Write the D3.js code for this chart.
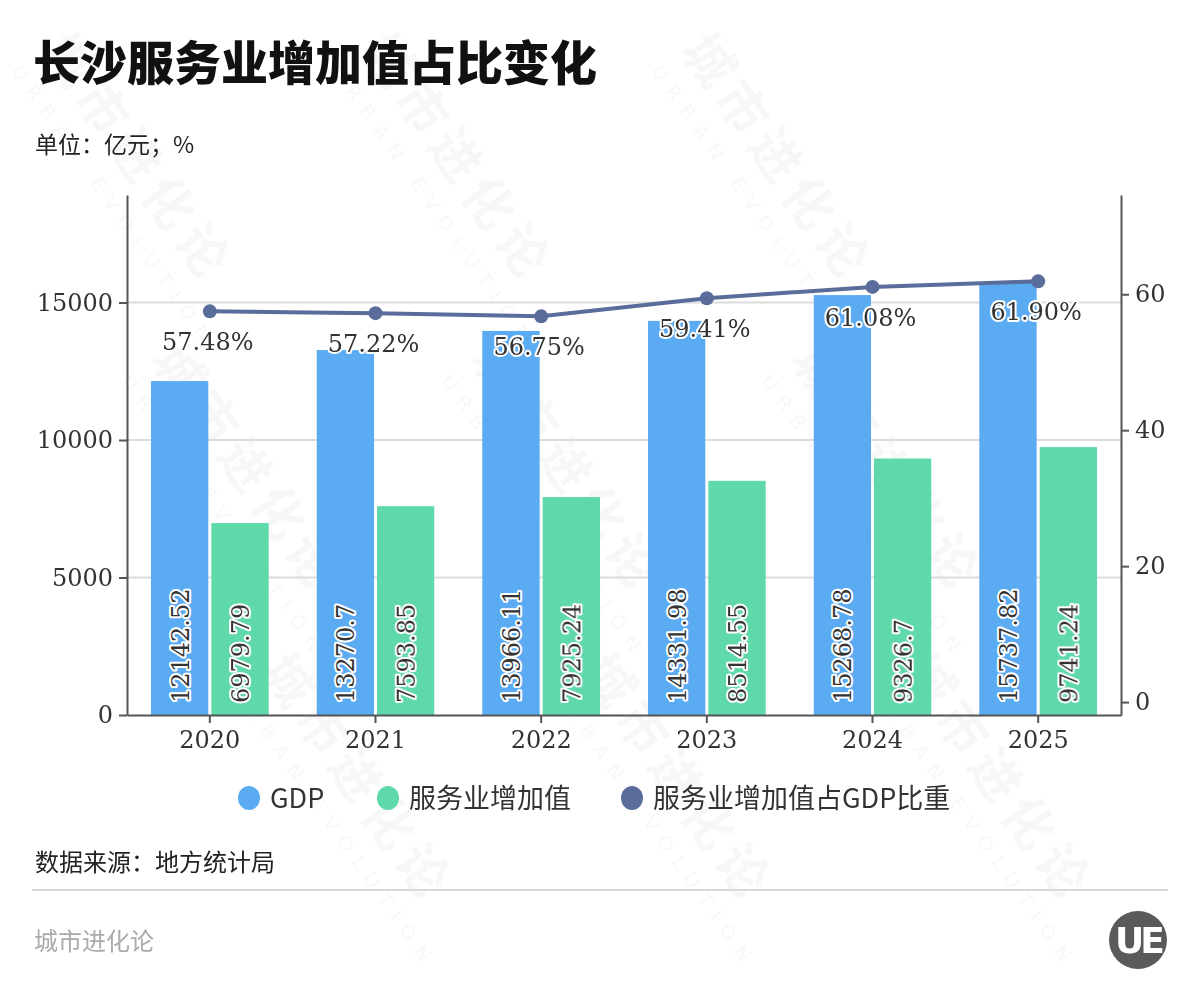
<!DOCTYPE html>
<meta charset="utf-8">
<style>
body {
	margin: 0;
	background-color: white;
}
#chart {
	display: block;
}
.num {
	font-family: "DejaVu Serif", serif;
}
.cjk {
	font-family: "Noto Sans CJK SC", sans-serif;
}
.axis path, .axis line {
	stroke: #555;
	stroke-width: 2px;
}
.axis text {
	font-family: "DejaVu Serif", serif;
	font-size: 24px;
	fill: #333;
}
.grid line {
	stroke: #dcdcdc;
	stroke-width: 2px;
}
.halo {
	paint-order: stroke;
	stroke: white;
	stroke-width: 4px;
	stroke-linejoin: round;
}
</style>
<html>
	<head>
		<title>长沙服务业增加值占比变化</title>
		<script src="https://cdn.jsdelivr.net/npm/d3@7"></script>
	</head>
	<body>
		<svg id="chart"></svg>

<script>
'use strict'

// data
const years       = ["2020", "2021", "2022", "2023", "2024", "2025"]
const gdp         = [12142.52, 13270.7, 13966.11, 14331.98, 15268.78, 15737.82]
const serviceVal  = [6979.79, 7593.85, 7925.24, 8514.55, 9326.7, 9741.24]
const serviceRate = [57.48, 57.22, 56.75, 59.41, 61.08, 61.90]
const leftTicks   = [0, 5000, 10000, 15000]
const rightTicks  = [0, 20, 40, 60]
const seriesNames = ["GDP", "服务业增加值", "服务业增加值占GDP比重"]

const width  = 1200,
      height = 1000,
      plot   = {left: 127, right: 1121, top: 195, bottom: 715}

const colors = {gdp: "#5aabf2", service: "#5fd8aa", rate: "#596c9a"}

const svg = d3.select("#chart")
	.attr("width", width)
	.attr("height", height)

svg.append("rect")
	.attr("width", width)
	.attr("height", height)
	.attr("fill", "white")

// very faint diagonal watermark, kept inside the picture
const wm = svg.append("g").attr("opacity", 0.035)
for (let col = 0; col < 3; col++) {
	for (let row = 0; row < 3; row++) {
		const g = wm.append("g")
			.attr("transform", "translate(" + (40 + col * 320 + row * 110) + "," + (50 + row * 310) + ") rotate(55)")
		g.append("text")
			.attr("class", "cjk")
			.attr("font-size", 50)
			.attr("font-weight", "bold")
			.attr("letter-spacing", 8)
			.text("城市进化论")
		g.append("text")
			.attr("font-family", "DejaVu Sans")
			.attr("font-size", 20)
			.attr("letter-spacing", 10)
			.attr("y", 36)
			.text("URBAN EVOLUTION")
	}
}

// scales
const x = d3.scaleBand()
	.domain(years)
	.range([plot.left, plot.right])

const xInner = d3.scaleBand()
	.domain(["gdp", "service"])
	.range([-59, 59])
	.paddingInner(0.05)

const yLeft = d3.scaleLinear()
	.domain([0, 18909])
	.range([plot.bottom, plot.top])

const yRight = d3.scaleLinear()
	.domain([-1.9, 74.6])
	.range([plot.bottom, plot.top])

const center = d => x(d) + x.bandwidth() / 2

// grid lines
svg.append("g")
	.attr("class", "grid")
	.selectAll("line")
	.data(leftTicks.filter(t => t > 0))
	.enter().append("line")
	.attr("x1", plot.left)
	.attr("x2", plot.right)
	.attr("y1", d => yLeft(d))
	.attr("y2", d => yLeft(d))

// bars
const rows = years.map((y, i) => ({year: y, gdp: gdp[i], service: serviceVal[i], rate: serviceRate[i]}))

const groups = svg.append("g")
	.selectAll("g")
	.data(rows)
	.enter().append("g")
	.attr("transform", d => "translate(" + center(d.year) + ",0)")

;["gdp", "service"].forEach(key => {
	groups.append("rect")
		.attr("x", xInner(key))
		.attr("width", xInner.bandwidth())
		.attr("y", d => yLeft(d[key]))
		.attr("height", d => plot.bottom - yLeft(d[key]))
		.attr("fill", colors[key])
})

// axes
svg.append("g")
	.attr("class", "axis")
	.attr("transform", "translate(" + plot.left + ",0)")
	.call(d3.axisLeft(yLeft).tickValues(leftTicks).tickFormat(d3.format("d"))
		.tickSize(8).tickSizeOuter(0).tickPadding(6))

svg.append("g")
	.attr("class", "axis")
	.attr("transform", "translate(" + plot.right + ",0)")
	.call(d3.axisRight(yRight).tickValues(rightTicks).tickSize(8).tickSizeOuter(0).tickPadding(6))

svg.append("g")
	.attr("class", "axis")
	.attr("transform", "translate(0," + plot.bottom + ")")
	.call(d3.axisBottom(x).tickSize(8).tickSizeOuter(0).tickPadding(8))

// bar value labels, rotated, sitting at the bottom of each bar
;["gdp", "service"].forEach(key => {
	groups.append("text")
		.attr("class", "num halo")
		.attr("font-size", 24)
		.attr("fill", "#333")
		.attr("text-anchor", "start")
		.attr("transform", d => "translate(" + (xInner(key) + xInner.bandwidth() / 2 + 9) + "," + (plot.bottom - 12) + ") rotate(-90)")
		.text(d => d[key])
})

// ratio line
const line = d3.line()
	.x(d => center(d.year))
	.y(d => yRight(d.rate))

svg.append("path")
	.datum(rows)
	.attr("d", line)
	.attr("fill", "none")
	.attr("stroke", colors.rate)
	.attr("stroke-width", 4)

svg.append("g")
	.selectAll("circle")
	.data(rows)
	.enter().append("circle")
	.attr("cx", d => center(d.year))
	.attr("cy", d => yRight(d.rate))
	.attr("r", 7)
	.attr("fill", colors.rate)

svg.append("g")
	.selectAll("text")
	.data(rows)
	.enter().append("text")
	.attr("class", "num halo")
	.attr("font-size", 24)
	.attr("fill", "#333")
	.attr("text-anchor", "middle")
	.attr("x", d => center(d.year) - 2)
	.attr("y", d => yRight(d.rate) + 39)
	.text(d => d.rate.toFixed(2) + "%")

// title and notes
svg.append("text")
	.attr("class", "cjk")
	.attr("x", 33)
	.attr("y", 80)
	.attr("font-size", 47)
	.attr("font-weight", 900)
	.attr("fill", "#111")
	.text("长沙服务业增加值占比变化")

svg.append("text")
	.attr("class", "cjk")
	.attr("x", 35)
	.attr("y", 153)
	.attr("font-size", 23)
	.attr("fill", "#222")
	.text("单位：亿元；%")

// legend
const legendX = [249, 388, 632]
const legendColors = [colors.gdp, colors.service, colors.rate]
const legend = svg.append("g")
	.selectAll("g")
	.data(seriesNames)
	.enter().append("g")
	.attr("transform", (d, i) => "translate(" + legendX[i] + ",798)")
legend.append("ellipse")
	.attr("rx", 11)
	.attr("ry", 12)
	.attr("fill", (d, i) => legendColors[i])
legend.append("text")
	.attr("class", "cjk")
	.attr("x", 21)
	.attr("y", 10)
	.attr("font-size", 27)
	.attr("fill", "#333")
	.text(d => d)

svg.append("text")
	.attr("class", "cjk")
	.attr("x", 35)
	.attr("y", 871)
	.attr("font-size", 24)
	.attr("fill", "#222")
	.text("数据来源：地方统计局")

svg.append("line")
	.attr("x1", 32)
	.attr("x2", 1168)
	.attr("y1", 890)
	.attr("y2", 890)
	.attr("stroke", "#dadada")
	.attr("stroke-width", 2)

svg.append("text")
	.attr("class", "cjk")
	.attr("x", 34)
	.attr("y", 950)
	.attr("font-size", 24)
	.attr("fill", "#aaa")
	.text("城市进化论")

// little round logo bottom right
const logo = svg.append("g").attr("transform", "translate(1138,940)")
logo.append("circle")
	.attr("r", 29)
	.attr("fill", "#5a5a5a")
logo.append("text")
	.attr("font-family", "DejaVu Sans")
	.attr("font-weight", "bold")
	.attr("font-size", 36)
	.attr("fill", "white")
	.attr("text-anchor", "middle")
	.attr("y", 13)
	.attr("letter-spacing", -4)
	.text("UE")
</script>

	</body>
</html>
